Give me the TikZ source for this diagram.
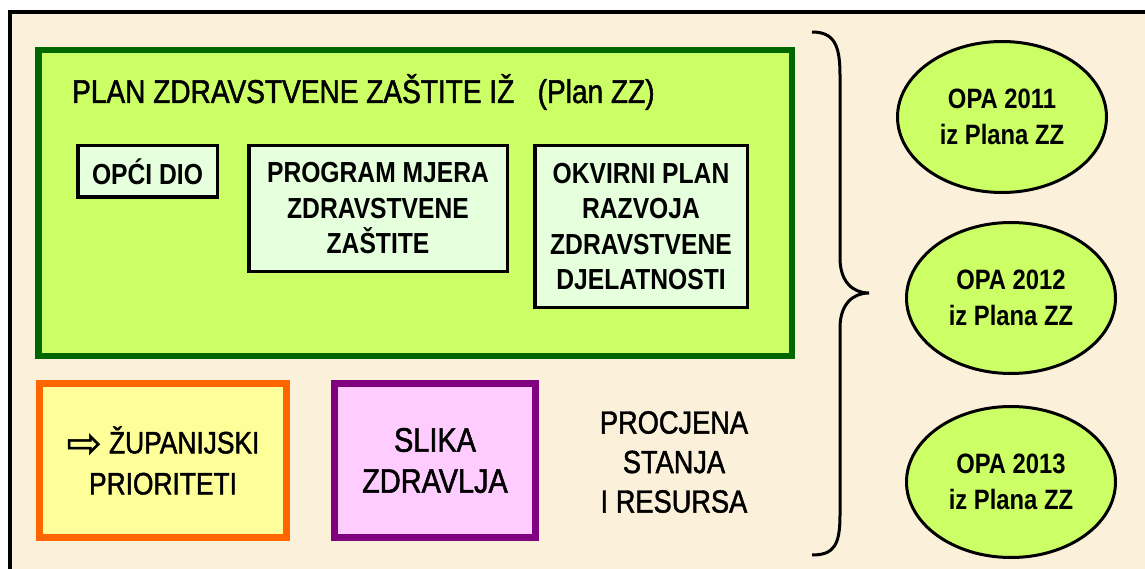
\documentclass[tikz,border=0pt]{standalone}
\usepackage{fontspec}
\setmainfont{Liberation Sans}[FakeStretch=0.85]
\newfontfamily\heavyfont{Liberation Sans}[FakeStretch=0.85, FakeBold=1.5]
\newfontfamily\arrowfont{DejaVu Sans}[FakeBold=1.2]
\usetikzlibrary{shapes.geometric}

\definecolor{bgbeige}{HTML}{FBF1DA}
\definecolor{plangreen}{HTML}{006600}
\definecolor{planfill}{HTML}{CCFF66}
\definecolor{partfill}{HTML}{E6FFDC}
\definecolor{prioorange}{HTML}{FF6600}
\definecolor{priofill}{HTML}{FFFF99}
\definecolor{slikapurple}{HTML}{800080}
\definecolor{slikafill}{HTML}{FFCCFF}

\begin{document}
\begin{tikzpicture}[x=1pt,y=-1pt,
  planbox/.style={draw=plangreen, fill=planfill, line width=6.5pt, inner sep=0pt},
  partbox/.style={draw=black, fill=partfill, line width=3.5pt, inner sep=0pt,
    align=center, font=\bfseries\fontsize{29}{35.5}\selectfont},
  bigbox/.style={line width=7pt, inner sep=0pt, align=center},
  opa/.style={ellipse, draw=black, fill=planfill, line width=3pt, inner sep=0pt,
    minimum width=209pt, minimum height=151pt, align=center,
    font=\bfseries\fontsize{28}{36}\selectfont}]
  \useasboundingbox (0,0) rectangle (1145,569);
  \fill [white] (0,0) rectangle (1145,569);
  \fill [bgbeige] (10,12) rectangle (1145,569);
  \draw [black, line width=3.5pt] (10,569) -- (10,12) -- (1145,12);
  \node [planbox, minimum width=753.5pt, minimum height=305.5pt] (plan) at (415,203) {};
  \node [anchor=base west, inner sep=0pt, font=\heavyfont\fontsize{33}{38}\selectfont] (title) at (72,103)
    {PLAN ZDRAVSTVENE ZAŠTITE IŽ\ \ \ (Plan ZZ)};
  \node [partbox, minimum width=139.5pt, minimum height=51.5pt] (opci) at (147.5,171.5) {OPĆI DIO};
  \node [partbox, minimum width=258.5pt, minimum height=125.5pt] (mjere) at (378,208.5)
    {PROGRAM MJERA\\ZDRAVSTVENE\\ZAŠTITE};
  \node [partbox, minimum width=212.5pt, minimum height=161.5pt] (okvir) at (641,226.5)
    {OKVIRNI PLAN\\RAZVOJA\\ZDRAVSTVENE\\DJELATNOSTI};
  \node [bigbox, draw=prioorange, fill=priofill, minimum width=247pt, minimum height=154pt,
    font=\heavyfont\fontsize{31}{41}\selectfont] (prio) at (163,460.5)
    {\raisebox{-4pt}{\arrowfont\fontsize{42}{41}\selectfont ⇨} ŽUPANIJSKI\\PRIORITETI};
  \node [bigbox, draw=slikapurple, fill=slikafill, minimum width=201pt, minimum height=154pt,
    font=\heavyfont\fontsize{34}{41}\selectfont] (slika) at (435,460.5) {SLIKA\\ZDRAVLJA\hspace{12pt}};
  \node [align=center, inner sep=0pt, font=\heavyfont\fontsize{32}{39.5}\selectfont] (procjena) at (674,462)
    {PROCJENA\\STANJA\\I RESURSA};
  \draw [black, line width=3pt] (812,32) .. controls (834,32) and (840,45) .. (840,75)
    -- (840,258) .. controls (840,282) and (853,293) .. (869,293)
    .. controls (853,293) and (840,304) .. (840,328)
    -- (840,515) .. controls (840,545) and (834,555) .. (812,555);
  \node [opa] (opa11) at (1002,117) {OPA 2011\\iz Plana ZZ};
  \node [opa] (opa12) at (1011,298) {OPA 2012\\iz Plana ZZ};
  \node [opa] (opa13) at (1011,482) {OPA 2013\\iz Plana ZZ};
\end{tikzpicture}
\end{document}
